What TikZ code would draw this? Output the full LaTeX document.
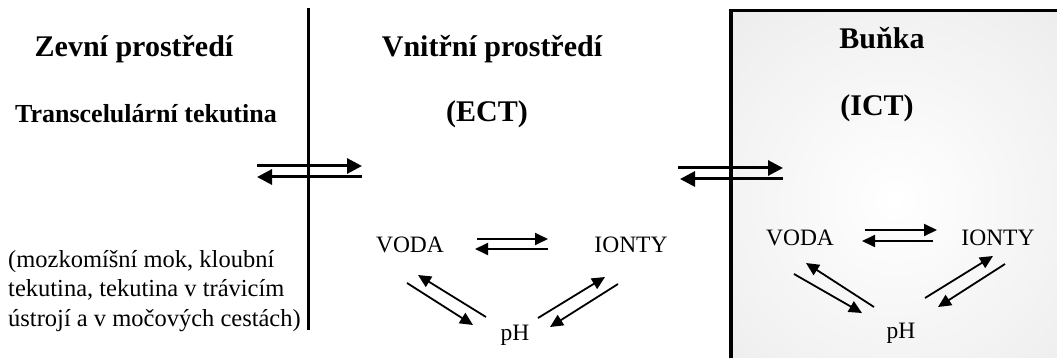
\documentclass[tikz,border=0pt]{standalone}
\usepackage{fontspec}
\setmainfont{Liberation Serif}
\usetikzlibrary{arrows.meta}
\begin{document}
\begin{tikzpicture}[x=1pt,y=-1pt,
  heading/.style={font=\fontsize{30}{34}\selectfont\bfseries, anchor=base, inner sep=0pt},
  subheading/.style={font=\fontsize{26}{30}\selectfont\bfseries, anchor=base, inner sep=0pt},
  term/.style={font=\fontsize{23.5}{29}\selectfont, anchor=base, inner sep=0pt},
  note/.style={font=\fontsize{24.5}{29.5}\selectfont, inner sep=0pt},
  bigarrow/.style={line width=3pt, -{Triangle[length=15pt,width=15pt]}},
  smallarrow/.style={line width=1.8pt, -{Triangle[length=13pt,width=12pt]}},
  ]
\useasboundingbox (0,0) rectangle (1057,358);
\fill[white] (0,0) rectangle (1057,358);
\clip (0,0) rectangle (1057,358);

% the cell: shaded box running off the right and bottom edges
\begin{scope}
  \clip (731,10.5) rectangle (1090,390);
  \shade[inner color=white, outer color=black!12] (895,200) circle (420);
\end{scope}
\coordinate (cellTR) at (1090,10.5);
\coordinate (cellTL) at (731,10.5);
\coordinate (cellBL) at (731,390);
\draw[line width=3.5pt] (cellTR) -- (cellTL) -- (cellBL);

% boundary between outer and inner environment
\coordinate (wallTop) at (308,8);
\coordinate (wallBot) at (308,330);
\draw[line width=3pt] (wallTop) -- (wallBot);

% headings
\node[heading] (zevni) at (134,57) {Zevní prostředí};
\node[subheading] (trans) at (146,123) {Transcelulární tekutina};
\node[heading] (vnitrni) at (492,57) {Vnitřní prostředí};
\node[heading] (ect) at (487,122) {(ECT)};
\node[heading] (bunka) at (882,49) {Buňka};
\node[heading] (ict) at (877,116) {(ICT)};

% examples of transcellular fluid
\node[note, anchor=north west, align=left] (examples) at (8,250)
  {(mozkomíšní mok, kloubní\\tekutina, tekutina v trávicím\\ústrojí a v močových cestách)};

% exchange across the boundaries
\coordinate (l1a) at (257,166); \coordinate (l1b) at (362,166);
\coordinate (l2a) at (362,177); \coordinate (l2b) at (257,177);
\draw[bigarrow] (l1a) -- (l1b);
\draw[bigarrow] (l2a) -- (l2b);
\coordinate (r1a) at (678,168); \coordinate (r1b) at (783,168);
\coordinate (r2a) at (783,179); \coordinate (r2b) at (680,179);
\draw[bigarrow] (r1a) -- (r1b);
\draw[bigarrow] (r2a) -- (r2b);

% extracellular triangle
\node[term] (voda1) at (410,252) {VODA};
\node[term] (ionty1) at (631,252) {IONTY};
\node[term] (ph1) at (515,340) {pH};
\coordinate (e1a) at (477,239); \coordinate (e1b) at (548,239);
\coordinate (e2a) at (548,249); \coordinate (e2b) at (475,249);
\draw[smallarrow] (e1a) -- (e1b);
\draw[smallarrow] (e2a) -- (e2b);
\coordinate (e3a) at (407,283); \coordinate (e3b) at (473,325);
\coordinate (e4a) at (486,317); \coordinate (e4b) at (418,275);
\draw[smallarrow] (e3a) -- (e3b);
\draw[smallarrow] (e4a) -- (e4b);
\coordinate (e5a) at (538,318); \coordinate (e5b) at (605,277);
\coordinate (e6a) at (618,284); \coordinate (e6b) at (550,327);
\draw[smallarrow] (e5a) -- (e5b);
\draw[smallarrow] (e6a) -- (e6b);

% intracellular triangle
\node[term] (voda2) at (800,245) {VODA};
\node[term] (ionty2) at (998,245) {IONTY};
\node[term] (ph2) at (901,338) {pH};
\coordinate (i1a) at (865,230); \coordinate (i1b) at (937,230);
\coordinate (i2a) at (933,241); \coordinate (i2b) at (862,241);
\draw[smallarrow] (i1a) -- (i1b);
\draw[smallarrow] (i2a) -- (i2b);
\coordinate (i3a) at (794,274); \coordinate (i3b) at (862,313);
\coordinate (i4a) at (874,307); \coordinate (i4b) at (806,263);
\draw[smallarrow] (i3a) -- (i3b);
\draw[smallarrow] (i4a) -- (i4b);
\coordinate (i5a) at (925,298); \coordinate (i5b) at (993,256);
\coordinate (i6a) at (1005,264); \coordinate (i6b) at (938,307);
\draw[smallarrow] (i5a) -- (i5b);
\draw[smallarrow] (i6a) -- (i6b);
\end{tikzpicture}
\end{document}
